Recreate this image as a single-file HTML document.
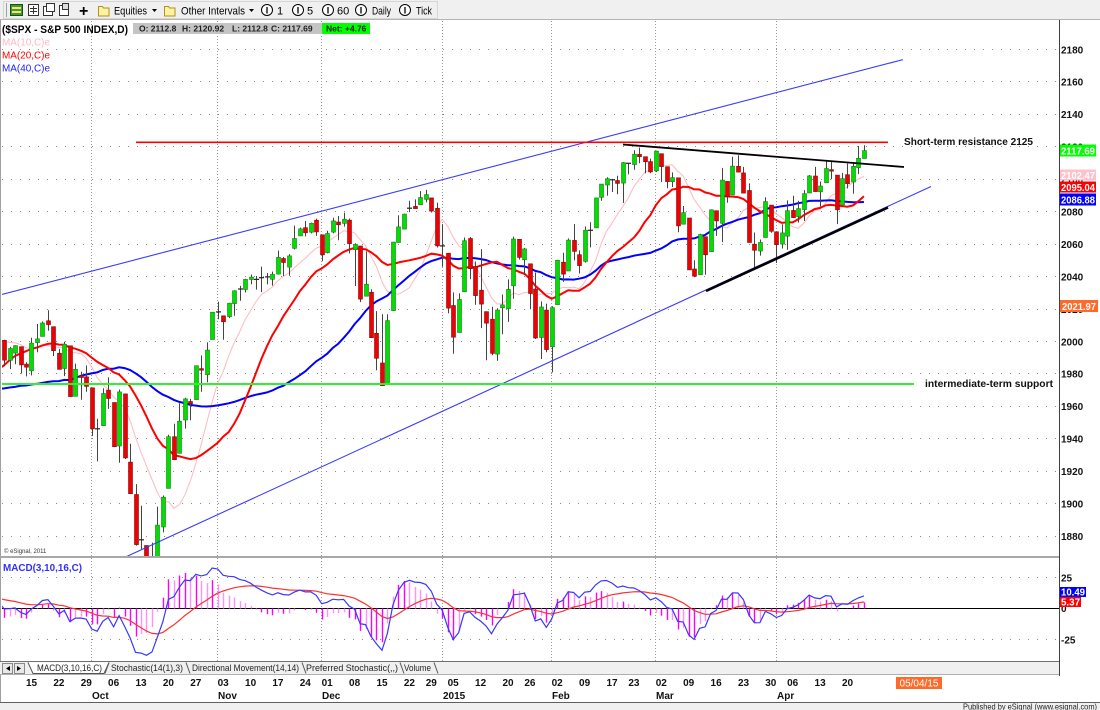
<!DOCTYPE html>
<html><head><meta charset="utf-8"><title>$SPX - S&amp;P 500 INDEX</title>
<style>
html,body{margin:0;padding:0;background:#fff}
body{width:1100px;height:710px;overflow:hidden}
svg{display:block}
text{font-family:"Liberation Sans",Arial,sans-serif}
</style></head><body>
<svg id="S" width="1100" height="710" viewBox="0 0 1100 710" xmlns="http://www.w3.org/2000/svg">
<defs>
<clipPath id="cm"><rect x="2" y="21" width="1057" height="535"/></clipPath>
<clipPath id="cd"><rect x="2" y="559" width="1057" height="102"/></clipPath>
</defs>
<rect width="1100" height="710" fill="#fff"/>

<!-- toolbar -->
<rect x="0" y="0" width="1100" height="20" fill="#f0f0f0"/>
<line x1="0" y1="19.5" x2="1100" y2="19.5" stroke="#b4b4b4"/>
<rect x="3.5" y="1.5" width="434" height="17" fill="none" stroke="#d6d6d6"/>
<line x1="6.5" y1="3" x2="6.5" y2="17" stroke="#a0a0a0"/>
<rect x="10.5" y="4.5" width="12" height="11" fill="#3c9c3c" stroke="#1d4d1d"/>
<rect x="12" y="7" width="9" height="2" fill="#ffe060"/><rect x="12" y="11" width="9" height="2" fill="#ffe060"/>
<rect x="28.5" y="4.5" width="10" height="11" fill="#fff" stroke="#333"/><path d="M30 8.5h7M30 11.5h7M33.5 6v8" stroke="#333"/>
<rect x="43.5" y="6.5" width="9" height="9" fill="#fff" stroke="#333"/><rect x="46.5" y="3.5" width="8" height="8" fill="#fff" stroke="#333"/>
<rect x="59.5" y="5.5" width="9" height="10" fill="#fff" stroke="#333"/><rect x="62.5" y="3.5" width="6" height="6" fill="#ddd" stroke="#333"/>
<text x="79" y="16" font-size="16" font-weight="bold">+</text>
<path d="M98.5 6.5h4l1 1.5h5.5v8h-10.5z" fill="#fff2a0" stroke="#b09020"/>
<text x="114" y="14.5" font-size="11" textLength="33" lengthAdjust="spacingAndGlyphs">Equities</text>
<path d="M152 9h5l-2.5 3z" fill="#000"/>
<path d="M164.5 6.5h4l1 1.5h5.5v8h-10.5z" fill="#fff2a0" stroke="#b09020"/>
<text x="181" y="14.5" font-size="11" textLength="64" lengthAdjust="spacingAndGlyphs">Other Intervals</text>
<path d="M249 9h5l-2.5 3z" fill="#000"/>
<g fill="#fff" stroke="#000"><circle cx="267" cy="10" r="5.5"/><circle cx="298" cy="10" r="5.5"/><circle cx="328" cy="10" r="5.5"/><circle cx="361" cy="10" r="5.5"/><circle cx="405" cy="10" r="5.5"/></g>
<g font-size="9" text-anchor="middle" font-weight="bold"><text x="267" y="13.5">I</text><text x="298" y="13.5">I</text><text x="328" y="13.5">I</text><text x="361" y="13.5">I</text><text x="405" y="13.5">I</text></g>
<g font-size="11"><text x="277" y="14.5">1</text><text x="307" y="14.5">5</text><text x="337" y="14.5">60</text><text x="372" y="14.5" textLength="19" lengthAdjust="spacingAndGlyphs">Daily</text><text x="416" y="14.5" textLength="16" lengthAdjust="spacingAndGlyphs">Tick</text></g>

<!-- borders -->
<line x1="0.5" y1="20" x2="0.5" y2="702" stroke="#a0a0a0"/>
<line x1="1059.5" y1="20" x2="1059.5" y2="676" stroke="#404040"/>

<!-- grid main -->
<path d="M2 49.5H1059M2 81.5H1059M2 114.5H1059M2 146.5H1059M2 179.5H1059M2 211.5H1059M2 244.5H1059M2 276.5H1059M2 309.5H1059M2 341.5H1059M2 373.5H1059M2 406.5H1059M2 438.5H1059M2 471.5H1059M2 503.5H1059M2 536.5H1059" stroke="#8a8a8a" stroke-dasharray="1,8"/>
<path d="M91.5 21V661M217.5 21V661M321.5 21V661M442.5 21V661M551.5 21V661M655.5 21V661M776.5 21V661" stroke="#9a9a9a" stroke-dasharray="1,2"/>
<path d="M2 577.5H1059M2 639.5H1059" stroke="#8a8a8a" stroke-dasharray="1,8"/>

<!-- dynamic layers -->
<g id="ma" clip-path="url(#cm)"></g>
<g id="candles" clip-path="url(#cm)"></g>

<!-- trend lines -->
<g clip-path="url(#cm)">
<line x1="0" y1="295" x2="903" y2="59.6" stroke="#3a3aff" stroke-width="1.1"/>
<line x1="118" y1="560.5" x2="931" y2="186.5" stroke="#3a3aff" stroke-width="1.1"/>
<line x1="136" y1="142.3" x2="888" y2="142.3" stroke="#ff0000" stroke-width="1.6"/>
<line x1="623" y1="144.5" x2="904" y2="167" stroke="#000" stroke-width="1.8"/>
<line x1="706" y1="291" x2="888" y2="207.5" stroke="#000" stroke-width="2.6"/>
<line x1="0" y1="384" x2="914" y2="384" stroke="#33ee33" stroke-width="2"/>
</g>
<text x="904" y="145" font-size="10.5" font-weight="bold" fill="#111" textLength="129" lengthAdjust="spacingAndGlyphs">Short-term resistance 2125</text>
<text x="925" y="387" font-size="10.5" font-weight="bold" fill="#111" textLength="128" lengthAdjust="spacingAndGlyphs">intermediate-term support</text>

<!-- legend -->
<text x="2" y="33" font-size="11" font-weight="bold" textLength="126" lengthAdjust="spacingAndGlyphs">($SPX - S&amp;P 500 INDEX,D)</text>
<rect x="133" y="23" width="237" height="11" fill="#c4c4c4"/>
<rect x="322" y="23" width="48" height="11" fill="#00ff00"/>
<g font-size="8.5" font-weight="bold" fill="#202020">
<text x="139" y="31.5">O: 2112.8</text><text x="182" y="31.5">H: 2120.92</text><text x="232" y="31.5">L: 2112.8</text><text x="271" y="31.5">C: 2117.69</text><text x="326" y="31.5">Net: +4.76</text></g>
<text x="2" y="45.5" font-size="10.5" fill="#ffb8c4" textLength="48" lengthAdjust="spacingAndGlyphs">MA(10,C)e</text>
<text x="2" y="58.5" font-size="10.5" fill="#ff0000" textLength="48" lengthAdjust="spacingAndGlyphs">MA(20,C)e</text>
<text x="2" y="71.5" font-size="10.5" fill="#2020ff" textLength="48" lengthAdjust="spacingAndGlyphs">MA(40,C)e</text>
<text x="4" y="553" font-size="6" fill="#333">© eSignal, 2011</text>

<!-- right axis -->
<g font-size="10" font-weight="bold" fill="#111">
<text x="1061" y="53.5">2180</text><text x="1061" y="85.5">2160</text><text x="1061" y="118">2140</text><text x="1061" y="150.5">2120</text><text x="1061" y="183">2100</text><text x="1061" y="215.5">2080</text><text x="1061" y="248">2060</text><text x="1061" y="280.5">2040</text><text x="1061" y="313">2020</text><text x="1061" y="345.5">2000</text><text x="1061" y="377.5">1980</text><text x="1061" y="410">1960</text><text x="1061" y="442.5">1940</text><text x="1061" y="475">1920</text><text x="1061" y="507.5">1900</text><text x="1061" y="540">1880</text>
<text x="1061" y="581.5">25</text><text x="1061" y="612">0</text><text x="1061" y="643.5">-25</text></g>
<rect x="1060" y="144.5" width="36" height="12" fill="#00ff00"/>
<rect x="1060" y="169.5" width="36" height="11" fill="#ffc0cb"/>
<rect x="1060" y="181.5" width="36" height="11" fill="#ff0000"/>
<rect x="1060" y="193.5" width="36" height="12" fill="#0000ff"/>
<rect x="1060" y="300" width="38" height="12" fill="#ff6a2a"/>
<rect x="1060" y="587" width="26" height="10" fill="#0000ff"/>
<rect x="1060" y="597" width="21" height="10" fill="#ff0000"/>
<g font-size="10" font-weight="bold" fill="#fff">
<text x="1061" y="154.5" textLength="34" lengthAdjust="spacingAndGlyphs">2117.69</text>
<text x="1061" y="179" textLength="34" lengthAdjust="spacingAndGlyphs">2102.47</text>
<text x="1061" y="191" textLength="34" lengthAdjust="spacingAndGlyphs">2095.04</text>
<text x="1061" y="203.5" textLength="34" lengthAdjust="spacingAndGlyphs">2086.88</text>
<text x="1062" y="310" textLength="34" lengthAdjust="spacingAndGlyphs">2021.97</text>
<text x="1061" y="595.5" textLength="24" lengthAdjust="spacingAndGlyphs">10.49</text>
<text x="1061" y="605.5" textLength="19" lengthAdjust="spacingAndGlyphs">5.37</text></g>

<!-- MACD panel -->
<line x1="0" y1="557" x2="1059" y2="557" stroke="#a8a8a8" stroke-width="2"/>
<line x1="2" y1="608.5" x2="1059" y2="608.5" stroke="#000"/>
<g id="macd" clip-path="url(#cd)"></g>
<text x="3" y="571" font-size="10.5" font-weight="bold" fill="#3030ff" textLength="79" lengthAdjust="spacingAndGlyphs">MACD(3,10,16,C)</text>

<!-- tabs strip -->
<rect x="0" y="661" width="1059" height="14" fill="#f0f0f0"/>
<line x1="0" y1="661.5" x2="1059" y2="661.5" stroke="#707070"/>
<line x1="0" y1="674.5" x2="1059" y2="674.5" stroke="#b0b0b0"/>
<rect x="2.5" y="663.5" width="10" height="10" fill="#e8e8e8" stroke="#888"/>
<rect x="14.5" y="663.5" width="10" height="10" fill="#e8e8e8" stroke="#888"/>
<path d="M10 666v5l-4-2.5z M17 666v5l4-2.5z" fill="#000"/>
<path d="M28 662.5L33 673.5H104L109 662.5" fill="#fff" stroke="#555"/>
<path d="M109 662.5L105 673.5M186 662.5L190 673.5M302 662.5L306 673.5M400 662.5L404 673.5M434 662.5L438 673.5" stroke="#555" fill="none"/>
<g font-size="9.5" fill="#222">
<text x="37" y="671" textLength="65" lengthAdjust="spacingAndGlyphs">MACD(3,10,16,C)</text>
<text x="111" y="671" textLength="72" lengthAdjust="spacingAndGlyphs">Stochastic(14(1),3)</text>
<text x="192" y="671" textLength="107" lengthAdjust="spacingAndGlyphs">Directional Movement(14,14)</text>
<text x="306" y="671" textLength="92" lengthAdjust="spacingAndGlyphs">Preferred Stochastic(,,)</text>
<text x="404" y="671" textLength="27" lengthAdjust="spacingAndGlyphs">Volume</text></g>

<!-- date labels -->
<g font-size="10" font-weight="bold" fill="#111" text-anchor="middle">
<text x="31.5" y="686">15</text><text x="58.9" y="686">22</text><text x="86.3" y="686">29</text><text x="113.6" y="686">06</text><text x="141" y="686">13</text><text x="168.4" y="686">20</text><text x="195.8" y="686">27</text><text x="223.2" y="686">03</text><text x="250.6" y="686">10</text><text x="277.9" y="686">17</text><text x="305.3" y="686">24</text><text x="327.2" y="686">01</text><text x="354.6" y="686">08</text><text x="382" y="686">15</text><text x="409.4" y="686">22</text><text x="431.3" y="686">29</text><text x="453.2" y="686">05</text><text x="480.6" y="686">12</text><text x="508" y="686">20</text><text x="529.9" y="686">26</text><text x="557.2" y="686">02</text><text x="584.6" y="686">09</text><text x="612" y="686">17</text><text x="633.9" y="686">23</text><text x="661.3" y="686">02</text><text x="688.7" y="686">09</text><text x="716.1" y="686">16</text><text x="743.5" y="686">23</text><text x="770.8" y="686">30</text><text x="792.7" y="686">06</text><text x="820.1" y="686">13</text><text x="847.5" y="686">20</text></g>
<g font-size="10" font-weight="bold" fill="#111">
<text x="92" y="699">Oct</text><text x="218" y="699">Nov</text><text x="322" y="699">Dec</text><text x="443" y="699">2015</text><text x="552" y="699">Feb</text><text x="656" y="699">Mar</text><text x="777" y="699">Apr</text></g>
<rect x="896" y="677" width="46" height="12" fill="#ff6a2a"/>
<text x="919" y="686.5" font-size="10" fill="#fff" text-anchor="middle">05/04/15</text>

<!-- status bar -->
<rect x="0" y="702" width="1100" height="8" fill="#f0f0f0"/>
<line x1="0" y1="702.5" x2="1100" y2="702.5" stroke="#606060"/>
<text x="1097" y="709.5" font-size="8.5" fill="#222" text-anchor="end" textLength="134" lengthAdjust="spacingAndGlyphs">Published by eSignal (www.esignal.com)</text>
</svg>
<script>
(function(){
var warm=[1937.78,1941.99,1956.98,1959.48,1962.87,1962.61,1949.98,1959.53,1957.22,1960.96,1960.23,1973.32,1974.62,1985.44,1977.65,1963.71,1972.83,1964.68,1967.57,1977.10,1973.28,1981.57,1958.12,1978.22,1973.63,1983.53,1987.01,1987.98,1978.34,1978.91,1969.95,1970.07,1930.67,1925.15,1938.99,1920.21,1920.24,1909.57,1931.59,1936.92,1933.75,1946.72,1955.18,1955.06,1971.74,1981.60,1986.51,1992.37,1988.40,1997.92,2000.02,2000.12,1996.74,2003.37,2002.28,2000.72,1997.65,2007.71,2001.54];
var D=[
[2000.73,2001.01,1984.61,1988.44],[1988.41,1996.66,1982.99,1995.69],[1992.85,1997.65,1985.93,1997.45],[1996.74,1996.74,1980.26,1985.54],
[1986.04,1987.18,1978.48,1984.13],[1981.93,2002.28,1979.06,1998.98],[1999.30,2010.74,1993.29,2001.57],[2003.07,2012.34,2003.07,2011.36],[2012.74,2019.26,2006.59,2010.40],
[2009.08,2009.08,1991.01,1994.29],[1992.78,1995.41,1982.77,1982.77],[1983.34,1999.79,1978.63,1998.30],[1997.32,1997.32,1965.99,1965.99],[1966.22,1986.37,1966.22,1982.85],
[1978.96,1981.28,1964.04,1977.80],[1978.21,1985.17,1968.96,1972.29],
[1971.44,1971.44,1941.72,1946.16],[1945.83,1952.32,1926.03,1946.17],[1948.12,1971.19,1948.12,1967.90],[1970.01,1977.84,1958.43,1964.82],[1962.36,1962.36,1934.87,1935.10],
[1935.55,1970.36,1925.25,1968.89],[1967.68,1967.68,1927.56,1928.21],[1925.63,1936.98,1906.05,1906.13],[1905.65,1912.09,1874.14,1874.74],[1877.11,1898.71,1871.79,1877.70],
[1874.18,1874.18,1820.66,1862.49],[1855.95,1876.01,1835.02,1862.76],[1864.91,1898.16,1864.91,1886.76],[1885.62,1905.03,1882.30,1904.01],[1909.38,1942.45,1909.38,1941.28],
[1941.29,1949.31,1926.83,1927.11],[1931.02,1961.95,1931.02,1950.82],[1951.59,1965.27,1946.27,1964.58],[1962.97,1964.64,1951.37,1961.63],[1964.14,1985.05,1964.14,1985.05],
[1983.29,1991.40,1969.04,1982.30],[1979.49,1999.40,1974.75,1994.65],[2001.20,2018.19,2001.20,2018.05],
[2018.21,2024.46,2013.68,2017.81],[2015.81,2015.98,2001.01,2012.10],[2015.29,2023.77,2014.42,2023.57],[2023.33,2031.61,2015.86,2031.21],[2032.36,2034.26,2025.07,2031.92],
[2032.01,2038.70,2030.17,2038.26],[2038.20,2041.28,2035.28,2039.68],[2037.75,2040.33,2031.95,2038.25],[2039.21,2046.18,2030.44,2039.33],[2039.74,2042.22,2035.20,2039.82],
[2038.29,2043.07,2034.46,2041.32],[2041.48,2056.08,2041.48,2051.80],[2051.16,2052.14,2040.37,2048.72],[2045.87,2053.84,2040.49,2052.75],[2057.46,2071.46,2056.75,2063.50],
[2065.07,2070.17,2065.07,2069.41],[2070.15,2074.21,2064.75,2067.03],[2067.36,2073.29,2066.62,2072.83],[2074.78,2075.76,2065.06,2067.56],
[2065.78,2065.78,2049.57,2053.44],[2054.77,2068.22,2054.27,2066.55],[2067.45,2076.28,2066.65,2074.33],[2073.64,2077.34,2062.34,2071.92],[2072.78,2079.47,2070.81,2075.37],
[2074.84,2075.78,2054.27,2060.31],[2056.55,2060.60,2034.17,2059.82],[2058.86,2058.86,2024.26,2026.14],[2027.92,2055.53,2027.92,2035.33],[2030.36,2032.25,2002.33,2002.33],
[2005.03,2018.69,1982.26,1989.63],[1986.71,2016.89,1972.56,1972.74],[1973.77,2016.75,1973.77,2012.89],[2018.98,2061.23,2018.98,2061.23],[2061.04,2077.85,2061.03,2070.65],
[2069.28,2078.76,2069.28,2078.54],[2081.48,2086.73,2079.77,2082.17],[2083.25,2087.56,2081.86,2081.88],[2084.30,2092.70,2084.30,2088.77],
[2087.63,2093.55,2085.75,2090.57],[2088.49,2088.49,2079.53,2080.35],[2082.11,2085.58,2057.94,2058.90],
[2058.90,2072.36,2046.04,2058.20],
[2054.44,2054.44,2017.34,2020.58],[2022.15,2030.25,1992.44,2002.61],[2005.55,2029.61,2005.55,2025.90],[2030.61,2064.08,2030.61,2062.14],[2063.45,2064.43,2038.33,2044.81],
[2046.13,2049.30,2022.58,2028.26],[2031.58,2056.93,2008.25,2023.03],[2018.40,2018.40,1988.44,2011.27],[2013.75,2021.35,1991.47,1992.67],[1992.25,2020.46,1988.12,2019.42],
[2020.76,2028.94,2004.49,2022.55],[2020.19,2038.29,2012.04,2032.12],[2034.30,2064.62,2026.38,2063.15],[2062.98,2062.98,2050.54,2051.82],
[2050.42,2057.62,2040.97,2057.09],[2047.86,2047.86,2019.91,2029.55],[2032.34,2042.49,2001.49,2002.16],[2002.45,2024.64,1989.18,2021.25],[2019.35,2023.32,1993.38,1994.99],
[1996.67,2021.66,1980.90,2020.85],[2022.71,2050.30,2022.71,2050.03],[2048.86,2054.74,2036.72,2041.51],[2043.45,2063.55,2043.45,2062.52],[2062.28,2072.40,2049.97,2055.47],
[2053.47,2056.16,2041.88,2046.74],[2049.38,2070.86,2048.62,2068.59],[2068.55,2073.48,2057.99,2068.53],[2069.98,2088.53,2069.98,2088.48],[2088.78,2097.03,2086.70,2096.99],
[2096.47,2101.30,2089.80,2100.34],[2099.16,2100.23,2092.15,2099.68],[2099.25,2102.13,2090.79,2097.45],[2097.65,2110.61,2085.44,2110.30],
[2109.83,2110.05,2103.00,2109.66],[2109.10,2117.94,2105.87,2115.48],[2115.30,2119.59,2109.89,2113.86],[2113.91,2113.91,2103.76,2110.74],[2110.88,2112.74,2103.75,2104.50],
[2105.23,2117.52,2104.50,2117.39],[2115.76,2115.76,2098.26,2107.78],[2107.72,2107.72,2094.49,2098.53],[2098.54,2104.25,2095.22,2101.04],[2100.91,2100.91,2067.27,2071.26],
[2072.25,2083.49,2072.21,2079.43],[2076.14,2076.14,2044.16,2044.16],[2044.69,2050.08,2039.69,2040.24],[2041.10,2066.41,2041.10,2065.95],[2064.56,2064.56,2041.17,2053.40],
[2055.35,2081.41,2055.35,2081.19],[2080.59,2080.59,2065.08,2074.28],[2072.84,2106.85,2061.23,2099.50],[2098.69,2098.69,2085.56,2089.27],[2090.32,2113.92,2090.32,2108.10],
[2107.99,2114.86,2104.42,2104.42],[2103.94,2107.63,2091.50,2091.50],[2093.10,2097.43,2061.05,2061.05],[2059.94,2067.15,2045.50,2056.15],[2055.78,2062.83,2052.96,2061.02],
[2064.11,2088.97,2064.11,2086.24],[2084.05,2084.05,2067.04,2067.89],
[2067.63,2067.63,2048.38,2059.69],[2060.03,2072.17,2057.32,2066.96],
[2064.87,2086.99,2056.52,2080.62],[2080.79,2089.81,2076.10,2076.33],[2076.94,2086.69,2073.30,2081.90],[2081.29,2093.31,2074.29,2091.18],[2091.51,2102.61,2091.51,2102.06],
[2102.03,2107.65,2092.33,2092.43],[2092.28,2098.62,2083.24,2095.84],[2097.82,2111.91,2097.82,2106.63],[2105.96,2111.30,2100.02,2104.99],[2102.58,2102.58,2072.37,2081.18],
[2084.11,2103.94,2084.11,2100.40],[2102.82,2109.64,2094.38,2097.29],[2098.27,2109.98,2091.05,2107.96],[2107.21,2120.49,2103.19,2112.93],[2112.80,2120.92,2112.80,2117.69]];
var P=5.4765,X0=26,OFF=4;
function X(i){return X0+(i-OFF)*P;}
function Y(p){return 49.5+(2180-p)*1.622;}
var closes=warm.concat(D.map(function(d){return d[3];}));
var nw=warm.length;
function sma(n,j){var s=0;for(var k=j-n+1;k<=j;k++)s+=closes[k];return s/n;}
function maPts(n){var a=[];for(var i=-1;i<D.length;i++){a.push(X(i).toFixed(1)+','+Y(sma(n,nw+i)).toFixed(1));}return a.join(' ');}
var s='';
s+='<polyline points="'+maPts(10)+'" fill="none" stroke="#ffb8c0" stroke-width="1"/>';
s+='<polyline points="'+maPts(40)+'" fill="none" stroke="#0000ff" stroke-width="2"/>';
s+='<polyline points="'+maPts(20)+'" fill="none" stroke="#ff0000" stroke-width="2"/>';
document.getElementById('ma').innerHTML=s;
s='';
for(var i=0;i<D.length;i++){
 var d=D[i],o=d[0],h=d[1],l=d[2],c=d[3];
 var xr=Math.round(X(i))+0.5;
 s+='<line x1="'+xr+'" x2="'+xr+'" y1="'+Y(h).toFixed(1)+'" y2="'+Y(l).toFixed(1)+'" stroke="#444" stroke-width="1"/>';
 var t=Y(Math.max(o,c)),b=Y(Math.min(o,c));
 if(b-t<1.2){s+='<line x1="'+(xr-2.5)+'" x2="'+(xr+2.5)+'" y1="'+t.toFixed(1)+'" y2="'+t.toFixed(1)+'" stroke="#222" stroke-width="1.2"/>';continue;}
 var col=c>=o?'fill="#00e000" stroke="#1a7a1a"':'fill="#f00000" stroke="#7a1010"';
 s+='<rect x="'+(xr-2)+'" y="'+t.toFixed(1)+'" width="4" height="'+(b-t).toFixed(1)+'" '+col+' stroke-width="0.6"/>';
}
document.getElementById('candles').innerHTML=s;
function ema(arr,n){var k=2/(n+1),e=arr[0],out=[];for(var i=0;i<arr.length;i++){if(i)e=arr[i]*k+e*(1-k);out.push(e);}return out;}
var e3=ema(closes,3),e10=ema(closes,10);
var m=closes.map(function(c,i){return e3[i]-e10[i];});
var sg=ema(m,16);
function MY(v){return 608.5-v*1.24;}
s='';
for(var i=0;i<D.length;i++){
 var j=nw+i,hv=m[j]-sg[j],hp=m[j-1]-sg[j-1];
 var xr=Math.round(X(i))+0.5;
 var col=Math.abs(hv)>=Math.abs(hp)?'#ff00ff':'#ff90ff';
 s+='<line x1="'+xr+'" x2="'+xr+'" y1="608.5" y2="'+MY(hv).toFixed(1)+'" stroke="'+col+'" stroke-width="1.4"/>';
}
var pm=[],ps=[];
for(var i=-1;i<D.length;i++){var j=nw+i;pm.push(X(i).toFixed(1)+','+MY(m[j]).toFixed(1));ps.push(X(i).toFixed(1)+','+MY(sg[j]).toFixed(1));}
s+='<polyline points="'+ps.join(' ')+'" fill="none" stroke="#ff3030" stroke-width="1.2"/>';
s+='<polyline points="'+pm.join(' ')+'" fill="none" stroke="#3838ff" stroke-width="1.2"/>';
document.getElementById('macd').innerHTML=s;
})();
</script>
</body></html>
